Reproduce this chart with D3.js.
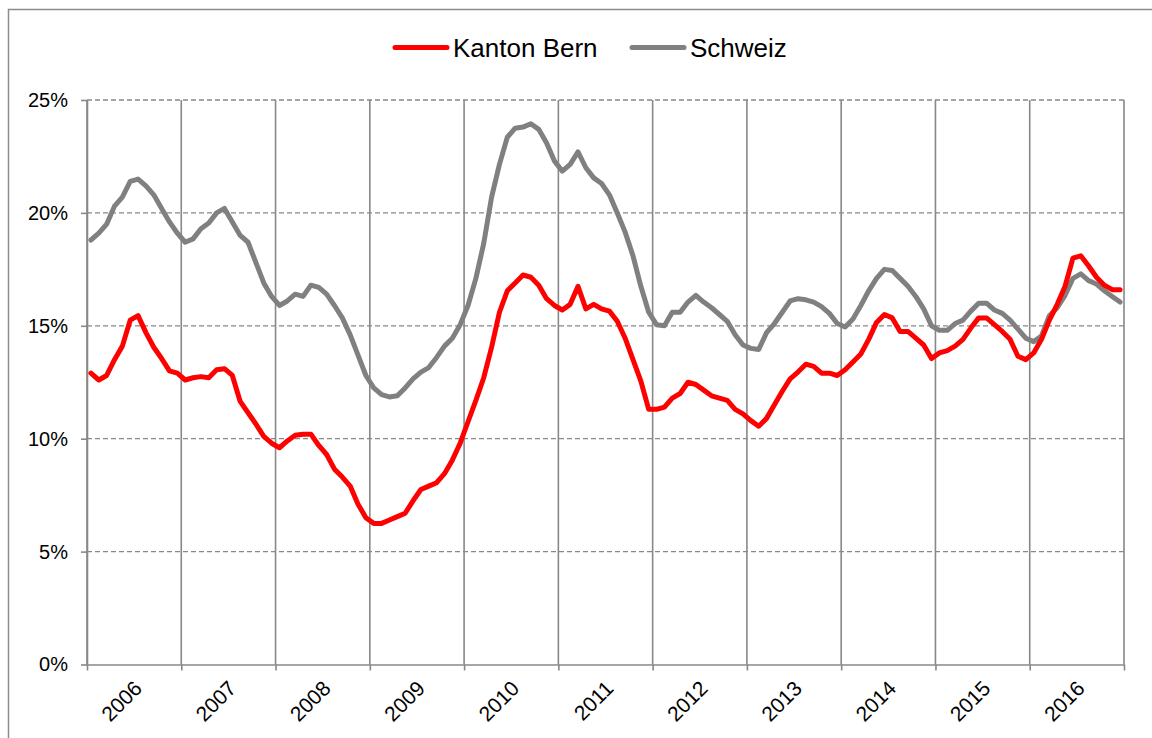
<!DOCTYPE html>
<html>
<head>
<meta charset="utf-8">
<script src="https://cdn.jsdelivr.net/npm/d3@7"></script>
<style>
  html, body { margin: 0; padding: 0; background: #fff; }
  svg { display: block; font-family: "Liberation Sans", Arial, sans-serif; }
</style>
</head>
<body>
<svg id="chart" width="1152" height="738"></svg>
<script>
// ---- data ----
const years = ["2006","2007","2008","2009","2010","2011","2012","2013","2014","2015","2016"];
const seriesNames = ["Kanton Bern", "Schweiz"];
const yTicks = [0, 0.05, 0.10, 0.15, 0.20, 0.25];

// monthly values (%), Jan 2006 .. Dec 2016
const bern = [
  12.9,12.6,12.8,13.5,14.1,15.25,15.45,14.7,14.05,13.55,13.0,12.9,
  12.6,12.7,12.75,12.7,13.05,13.1,12.8,11.65,11.15,10.65,10.1,9.8,
  9.6,9.9,10.15,10.2,10.2,9.7,9.3,8.65,8.3,7.9,7.1,6.5,
  6.25,6.25,6.4,6.55,6.7,7.25,7.75,7.9,8.05,8.45,9.05,9.8,
  10.75,11.7,12.7,14.05,15.6,16.55,16.9,17.25,17.15,16.8,16.2,15.9,
  15.7,15.95,16.75,15.75,15.95,15.75,15.65,15.2,14.45,13.5,12.55,11.3,
  11.3,11.4,11.8,12.0,12.5,12.4,12.15,11.9,11.8,11.7,11.3,11.1,
  10.8,10.55,10.9,11.5,12.1,12.65,12.95,13.3,13.2,12.9,12.9,12.8,
  13.05,13.4,13.75,14.4,15.15,15.5,15.35,14.75,14.75,14.45,14.15,13.55,
  13.8,13.9,14.1,14.4,14.9,15.35,15.35,15.05,14.75,14.4,13.65,13.5,
  13.8,14.4,15.25,15.95,16.75,18.0,18.1,17.65,17.15,16.8,16.6,16.6
];
const schweiz = [
  18.8,19.1,19.5,20.3,20.7,21.4,21.5,21.2,20.8,20.2,19.6,19.1,
  18.7,18.85,19.3,19.55,20.0,20.2,19.6,19.0,18.7,17.8,16.9,16.3,
  15.9,16.1,16.4,16.3,16.8,16.7,16.4,15.9,15.35,14.6,13.7,12.8,
  12.25,11.95,11.85,11.9,12.25,12.65,12.95,13.15,13.6,14.1,14.45,15.05,
  15.9,17.1,18.65,20.7,22.15,23.35,23.75,23.8,23.95,23.7,23.1,22.3,
  21.85,22.15,22.7,22.0,21.55,21.3,20.8,20.0,19.15,18.1,16.75,15.6,
  15.05,15.0,15.6,15.6,16.05,16.35,16.05,15.8,15.5,15.2,14.6,14.15,
  14.0,13.95,14.7,15.1,15.6,16.1,16.2,16.15,16.05,15.85,15.55,15.1,
  14.95,15.3,15.9,16.55,17.1,17.5,17.45,17.1,16.75,16.3,15.75,15.0,
  14.8,14.8,15.1,15.25,15.65,16.0,16.0,15.7,15.55,15.25,14.85,14.45,
  14.3,14.55,15.45,15.8,16.35,17.1,17.3,17.0,16.85,16.55,16.3,16.05
];
const colors = ["#ff0000", "#808080"];

// ---- layout ----
const svg = d3.select("#chart");
const L = 87, R = 1124, T = 100, B = 664.5;
const nMonths = years.length * 12;

const x = d3.scaleLinear().domain([0, nMonths]).range([L, R]);
const xYear = d3.scaleBand().domain(years).range([L, R]);
const y = d3.scaleLinear().domain([0, 0.25]).range([B, T]);

// outer frame
svg.append("rect").attr("x", 8.5).attr("y", 9.5).attr("width", 1200).attr("height", 800)
  .attr("fill", "none").attr("stroke", "#8c8c8c").attr("stroke-width", 1.5);

const gridColor = "#888888";

// horizontal dashed gridlines
svg.append("g").selectAll("line").data(yTicks.filter(d => d > 0)).join("line")
  .attr("x1", L).attr("x2", R)
  .attr("y1", d => y(d)).attr("y2", d => y(d))
  .attr("stroke", gridColor).attr("stroke-width", 1.3).attr("stroke-dasharray", "5,3");

// vertical gridlines at year boundaries
const boundaries = d3.range(0, nMonths + 1, 12);
svg.append("g").selectAll("line").data(boundaries).join("line")
  .attr("x1", d => x(d)).attr("x2", d => x(d))
  .attr("y1", T).attr("y2", B)
  .attr("stroke", gridColor).attr("stroke-width", 1.6);

// x axis
const xAxis = d3.axisBottom(x).tickValues(boundaries).tickFormat("").tickSize(6).tickSizeOuter(0);
const gx = svg.append("g").attr("transform", `translate(0,${B})`).call(xAxis);
gx.select(".domain").attr("stroke", gridColor).attr("stroke-width", 1.6);
gx.selectAll(".tick line").attr("stroke", gridColor).attr("stroke-width", 1.6);

// y axis
const yAxis = d3.axisLeft(y).tickValues(yTicks).tickFormat(d => Math.round(d * 100) + "%").tickSize(6).tickSizeOuter(0).tickPadding(13);
const gy = svg.append("g").attr("transform", `translate(${L},0)`).call(yAxis);
gy.select(".domain").attr("stroke", gridColor).attr("stroke-width", 1.6);
gy.selectAll(".tick line").attr("stroke", gridColor).attr("stroke-width", 1.6);
gy.selectAll(".tick text").attr("fill", "#000").style("font-size", "20px")
  .style("font-family", "'Liberation Sans', Arial, sans-serif");

// year labels (rotated)
svg.append("g").selectAll("text").data(years).join("text")
  .attr("transform", d => `translate(${xYear(d) + xYear.bandwidth() / 2 + 4},${B + 20}) rotate(-45)`)
  .attr("text-anchor", "end")
  .attr("dy", "0.35em")
  .style("font-size", "21px")
  .attr("fill", "#000")
  .text(d => d);

// lines
const line = d3.line().x((d, i) => x(i + 0.5)).y(d => y(d / 100));
[schweiz, bern].forEach((s, k) => {
  const c = k === 0 ? colors[1] : colors[0];
  svg.append("path").datum(s)
    .attr("d", line)
    .attr("fill", "none")
    .attr("stroke", c)
    .attr("stroke-width", 5)
    .attr("stroke-linejoin", "round")
    .attr("stroke-linecap", "round");
});

// legend
const legendItems = [
  { name: seriesNames[0], color: colors[0], x0: 395 },
  { name: seriesNames[1], color: colors[1], x0: 632 }
];
const lg = svg.append("g");
legendItems.forEach(it => {
  lg.append("line").attr("x1", it.x0).attr("x2", it.x0 + 52)
    .attr("y1", 47.5).attr("y2", 47.5)
    .attr("stroke", it.color).attr("stroke-width", 5).attr("stroke-linecap", "round");
  lg.append("text").attr("x", it.x0 + 58).attr("y", 47.5).attr("dy", "0.35em")
    .style("font-size", "26px").attr("fill", "#000").text(it.name);
});
</script>
</body>
</html>
